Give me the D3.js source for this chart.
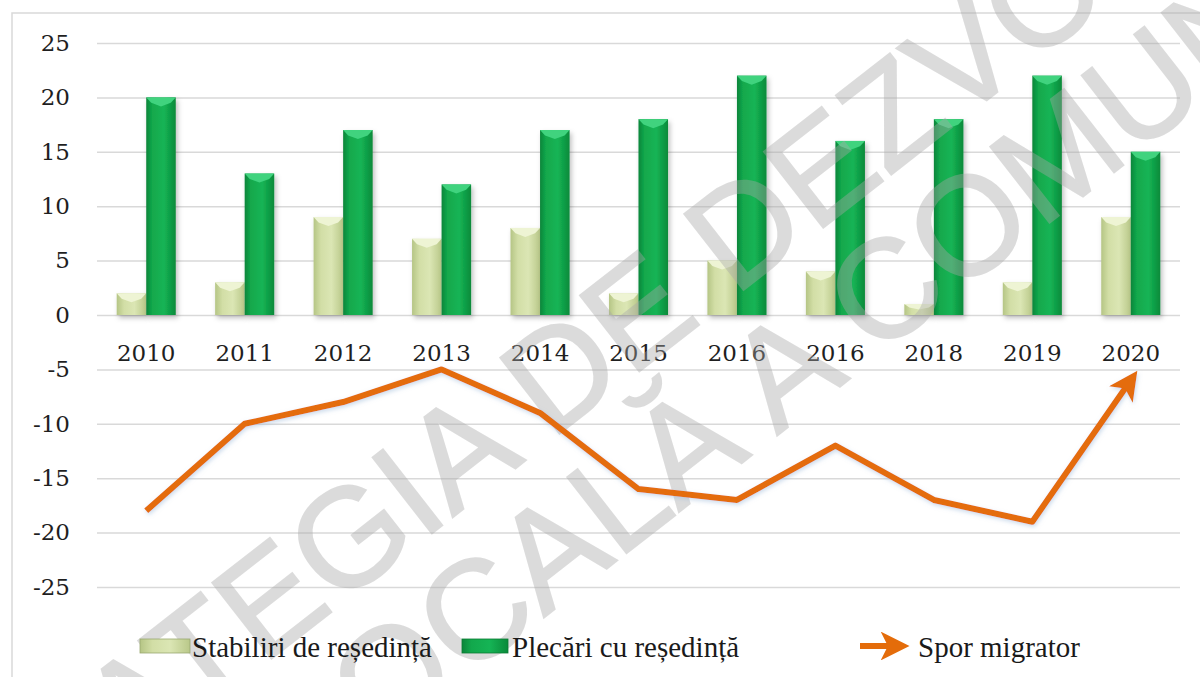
<!DOCTYPE html>
<html>
<head>
<meta charset="utf-8">
<script src="https://cdn.jsdelivr.net/npm/d3@7"></script>
<style>
  body { margin: 0; background: #fff; }
  svg { display: block; }
</style>
</head>
<body>
<div id="chart"></div>
<script>
"use strict";

// data
const years = ["2010", "2011", "2012", "2013", "2014", "2015", "2016", "2016", "2018", "2019", "2020"];
const stabiliri = [2, 3, 9, 7, 8, 2, 5, 4, 1, 3, 9];
const plecari = [20, 13, 17, 12, 17, 18, 22, 16, 18, 22, 15];
const spor = [-18, -10, -8, -5, -9, -16, -17, -12, -17, -19, -6];
const yTicks = [-25, -20, -15, -10, -5, 0, 5, 10, 15, 20, 25];
const seriesNames = ["Stabiliri de reședință", "Plecări cu reședință", "Spor migrator"];
const watermark = ["STRATEGIA DE DEZVOLTARE", "LOCALĂ A COMUNEI"];

const msm = {
  width: 1200,
  height: 677,
  left: 97,
  right: 1180,
  top: 43,
  bottom: 587
};

let svgContainer = d3.select("#chart")
  .append("svg")
  .attr("width", msm.width)
  .attr("height", msm.height);

let defs = svgContainer.append("defs");

// horizontal gradients give the bars their rounded 3D look
function makeGradient(id, stops) {
  let g = defs.append("linearGradient").attr("id", id)
    .attr("x1", "0%").attr("x2", "100%").attr("y1", "0%").attr("y2", "0%");
  stops.forEach((s) => g.append("stop").attr("offset", s[0]).attr("stop-color", s[1]));
}
makeGradient("gLight", [["0%", "#b5c585"], ["25%", "#d2dea6"], ["60%", "#dbe6b4"], ["100%", "#b9c889"]]);
makeGradient("gGreen", [["0%", "#0a853a"], ["20%", "#12a84c"], ["60%", "#15b455"], ["100%", "#0a8a3a"]]);

let shadow = defs.append("filter").attr("id", "shadow")
  .attr("x", "-30%").attr("y", "-10%").attr("width", "160%").attr("height", "130%");
shadow.append("feDropShadow").attr("dx", 2).attr("dy", 3).attr("stdDeviation", 2.5)
  .attr("flood-color", "#000").attr("flood-opacity", 0.25);

let lineGlow = defs.append("filter").attr("id", "lineGlow")
  .attr("x", "-10%").attr("y", "-20%").attr("width", "120%").attr("height", "140%");
lineGlow.append("feDropShadow").attr("dx", 1).attr("dy", 2).attr("stdDeviation", 2)
  .attr("flood-color", "#9ab8d8").attr("flood-opacity", 0.5);

defs.append("marker").attr("id", "arrow")
  .attr("viewBox", "0 0 10 10").attr("refX", 6).attr("refY", 5)
  .attr("markerWidth", 4.8).attr("markerHeight", 4.8)
  .attr("orient", "auto-start-reverse")
  .append("path").attr("d", "M0,0 L10,5 L0,10 L2.5,5 Z").attr("fill", "#e46c0a");

// chart frame
svgContainer.append("rect")
  .attr("x", 12).attr("y", 13).attr("width", 1300).attr("height", 800)
  .attr("fill", "#fff").attr("stroke", "#d9d9d9").attr("stroke-width", 1.5);

// scales
let xScale = d3.scaleBand()
  .domain(d3.range(years.length))
  .range([msm.left, msm.right]);

let inner = d3.scaleBand()
  .domain([0, 1])
  .range([xScale.bandwidth() * 0.2, xScale.bandwidth() * 0.8]);

let yScale = d3.scaleLinear()
  .domain([-25, 25])
  .range([msm.bottom, msm.top]);

// y axis + grid
let yAxis = d3.axisLeft(yScale)
  .tickValues(yTicks)
  .tickFormat((d) => String(d))
  .tickSize(-(msm.right - msm.left))
  .tickPadding(27);

let yG = svgContainer.append("g")
  .attr("transform", "translate(" + msm.left + ",0)")
  .call(yAxis);
yG.select(".domain").remove();
yG.selectAll("line").attr("stroke", "#d9d9d9").attr("stroke-width", 1.5);
yG.selectAll("text")
  .style("font-family", "'DejaVu Serif', serif")
  .style("font-size", "23px")
  .attr("fill", "#1f1f1f");

// x axis labels sit just under the zero line
let xAxis = d3.axisBottom(xScale)
  .tickFormat((i) => years[i])
  .tickSize(0)
  .tickPadding(30);

let xG = svgContainer.append("g")
  .attr("transform", "translate(0," + yScale(0) + ")")
  .call(xAxis);
xG.select(".domain").remove();
xG.selectAll("text")
  .style("font-family", "'DejaVu Serif', serif")
  .style("font-size", "23px")
  .attr("fill", "#1f1f1f");

// bars
let barData = years.map((y, i) => ({ i: i, a: stabiliri[i], b: plecari[i] }));

function drawBars(key, slot, fill, bevel) {
  let g = svgContainer.append("g").attr("filter", "url(#shadow)");
  let w = inner.bandwidth();
  g.selectAll("rect")
    .data(barData)
    .enter()
    .append("rect")
    .attr("x", (d) => xScale(d.i) + inner(slot))
    .attr("y", (d) => yScale(d[key]))
    .attr("width", w)
    .attr("height", (d) => yScale(0) - yScale(d[key]))
    .attr("fill", fill);
  // lighter bevel on top of each bar
  g.selectAll("path")
    .data(barData)
    .enter()
    .append("path")
    .attr("d", (d) => {
      let x0 = xScale(d.i) + inner(slot);
      let y0 = yScale(d[key]);
      let h = Math.min(9, (yScale(0) - y0) / 2);
      return "M" + x0 + "," + y0 + "L" + (x0 + w) + "," + y0 +
        "L" + (x0 + w - 5) + "," + (y0 + h * 0.6) +
        "L" + (x0 + w / 2) + "," + (y0 + h) +
        "L" + (x0 + 5) + "," + (y0 + h * 0.6) + "Z";
    })
    .attr("fill", bevel);
}
drawBars("a", 0, "url(#gLight)", "#eef4d4");
drawBars("b", 1, "url(#gGreen)", "#3fd37e");

// watermark over the bars, under the line
let wm = svgContainer.append("g").attr("class", "watermark")
  .style("font-family", "'Liberation Sans', Arial, sans-serif")
  .style("font-size", "140px")
  .attr("fill", "#a8a8a8")
  .attr("stroke", "#a8a8a8")
  .attr("stroke-width", 2)
  .attr("opacity", 0.4);
wm.append("text").attr("transform", "translate(-91,942) rotate(-38)").text(watermark[0]);
wm.append("text").attr("transform", "translate(317,795) rotate(-38)").text(watermark[1]);

// migration balance line
let line = d3.line()
  .x((d, i) => xScale(i) + xScale.bandwidth() / 2)
  .y((d) => yScale(d));

svgContainer.append("path")
  .datum(spor)
  .attr("d", line)
  .attr("fill", "none")
  .attr("stroke", "#e46c0a")
  .attr("stroke-width", 6)
  .attr("stroke-linejoin", "round")
  .attr("marker-end", "url(#arrow)")
  .attr("filter", "url(#lineGlow)");

// legend
let legend = svgContainer.append("g")
  .style("font-family", "'Liberation Serif', serif")
  .style("font-size", "29px")
  .attr("fill", "#1a1a1a");

legend.append("rect").attr("x", 140).attr("y", 639).attr("width", 50).attr("height", 14)
  .attr("fill", "url(#gLight)").attr("stroke", "#9aa870").attr("stroke-width", 0.8);
legend.append("text").attr("x", 192).attr("y", 657).text(seriesNames[0]);

legend.append("rect").attr("x", 462).attr("y", 639).attr("width", 46).attr("height", 14)
  .attr("fill", "url(#gGreen)").attr("stroke", "#0a7a33").attr("stroke-width", 0.8);
legend.append("text").attr("x", 512).attr("y", 657).text(seriesNames[1]);

legend.append("line").attr("x1", 860).attr("y1", 646).attr("x2", 898).attr("y2", 646)
  .attr("stroke", "#e46c0a").attr("stroke-width", 6).attr("marker-end", "url(#arrow)");
legend.append("text").attr("x", 918).attr("y", 657).text(seriesNames[2]);
</script>
</body>
</html>
